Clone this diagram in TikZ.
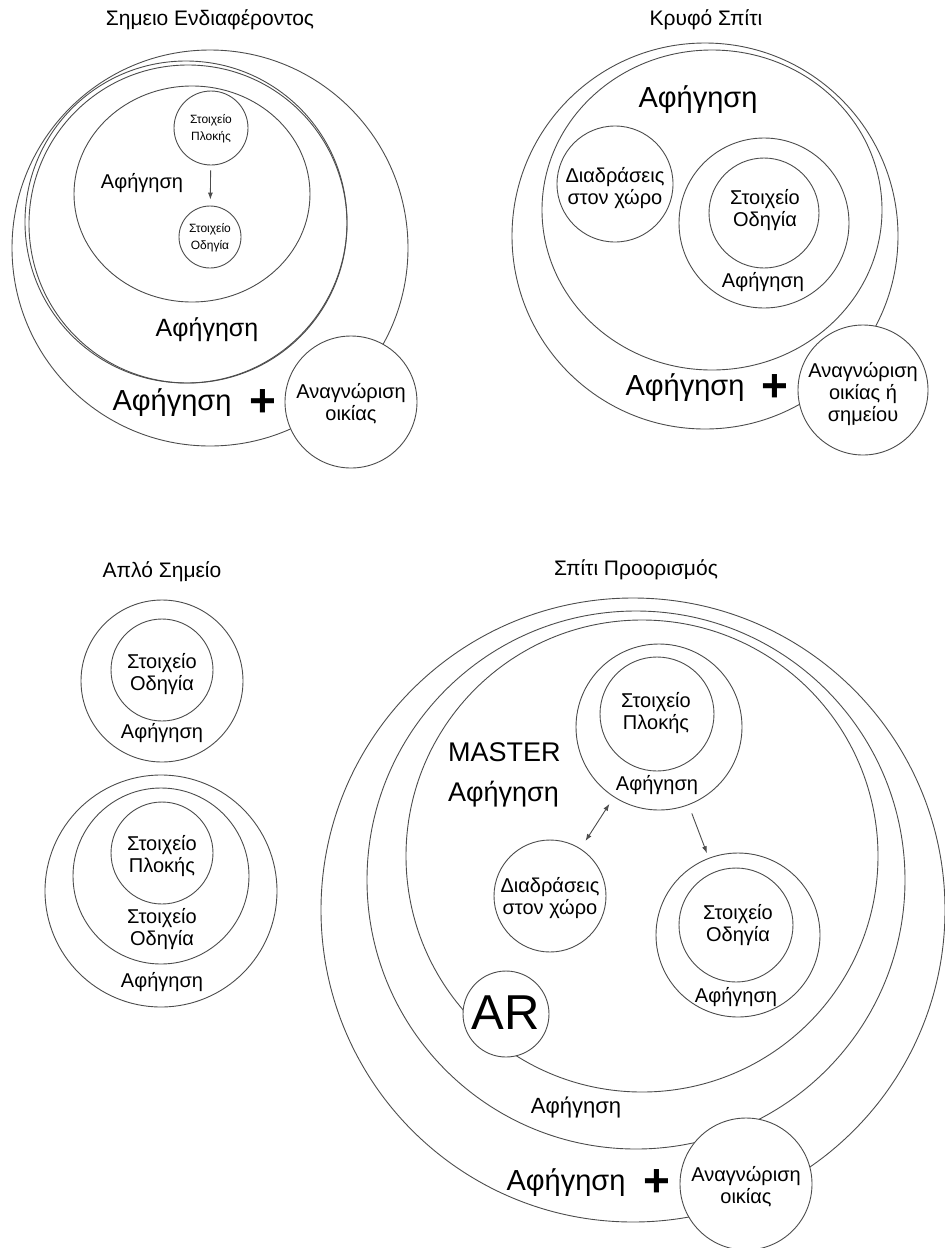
\documentclass[tikz,border=0pt]{standalone}
\usepackage{fontspec}
\setmainfont{Liberation Sans}
\usetikzlibrary{arrows.meta,positioning,shapes.geometric}
\definecolor{linegray}{gray}{0.3}

\begin{document}
\begin{tikzpicture}[x=1pt, y=-1pt,
    ring/.style={circle, draw=linegray, line width=0.9pt, inner sep=0pt},
    oval/.style={ellipse, draw=linegray, line width=0.9pt, inner sep=0pt},
    cover/.style={ring, fill=white},
    txt/.style={inner sep=0pt, align=center, font=\fontsize{20}{22}\selectfont},
    tiny/.style={txt, font=\fontsize{12}{17}\selectfont},
    mid/.style={txt, font=\fontsize{25}{30}\selectfont},
    big/.style={txt, font=\fontsize{29}{33}\selectfont},
    heading/.style={txt, font=\fontsize{21}{25}\selectfont},
    plus/.style={txt, font=\fontsize{46}{46}\bfseries\selectfont},
    arr/.style={-{Latex[length=7pt,width=5pt]}, draw=linegray, line width=0.9pt}]
    \useasboundingbox (0,0) rectangle (945,1248);

    % Σημείο Ενδιαφέροντος
    \node[heading] (poiTitle) at (210,20) {Σημειο Ενδιαφέροντος};
    \node[ring, minimum size=396pt] (poiOuter) at (210,248) {};
    \node[ring, minimum size=322pt] (poiMid) at (186,222) {};
    \node[ring, minimum size=318pt] (poiMidB) at (188,224) {};
    \node[oval, minimum width=236pt, minimum height=216pt] (poiInner) at (192,194) {};
    \node[ring, minimum size=74pt] (poiPlok) at (211,128) {};
    \node[tiny] (poiPlokTxt) at (211,129) {Στοιχείο\\Πλοκής};
    \node[ring, minimum size=62pt] (poiOdig) at (210,237) {};
    \node[tiny] (poiOdigTxt) at (210,238) {Στοιχείο\\Οδηγία};
    \draw[arr, shorten <=5pt, shorten >=6pt] (poiPlok) -- (poiOdig);
    \node[txt] (poiNarrA) at (142,183) {Αφήγηση};
    \node[mid] (poiNarrB) at (207,330) {Αφήγηση};
    \node[big] (poiNarrC) at (172,403) {Αφήγηση};
    \node[plus] (poiPlus) at (263,403) {+};
    \node[cover, minimum size=132pt] (poiRecog) at (351,402) {};
    \node[txt] (poiRecogTxt) at (351,404) {Αναγνώριση\\οικίας};

    % Κρυφό Σπίτι
    \node[heading] (hidTitle) at (706,20) {Κρυφό Σπίτι};
    \node[ring, minimum size=386pt] (hidOuter) at (705,236) {};
    \node[oval, minimum width=340pt, minimum height=320pt] (hidMid) at (712,210) {};
    \node[big] (hidNarrTop) at (698,100) {Αφήγηση};
    \node[ring, minimum size=116pt] (hidDiad) at (615,184) {};
    \node[txt] (hidDiadTxt) at (615,188) {Διαδράσεις\\στον χώρο};
    \node[ring, minimum size=170pt] (hidOdigRing) at (764,223) {};
    \node[ring, minimum size=110pt] (hidOdig) at (764,213) {};
    \node[txt] (hidOdigTxt) at (765,210) {Στοιχείο\\Οδηγία};
    \node[txt] (hidNarrIn) at (763,282) {Αφήγηση};
    \node[big] (hidNarrOut) at (685,388) {Αφήγηση};
    \node[plus] (hidPlus) at (775,388) {+};
    \node[cover, minimum size=130pt] (hidRecog) at (863,390) {};
    \node[txt] (hidRecogTxt) at (863,394) {Αναγνώριση\\οικίας ή\\σημείου};

    % Απλό Σημείο
    \node[heading] (simTitle) at (162,572) {Απλό Σημείο};
    \node[ring, minimum size=162pt] (simOuterA) at (162,681) {};
    \node[ring, minimum size=102pt] (simOdig) at (162,670) {};
    \node[txt] (simOdigTxt) at (162,674) {Στοιχείο\\Οδηγία};
    \node[txt] (simNarrA) at (162,733) {Αφήγηση};
    \node[ring, minimum size=232pt] (simOuterB) at (161,891) {};
    \node[ring, minimum size=176pt] (simMidB) at (161,876) {};
    \node[ring, minimum size=102pt] (simPlok) at (162,853) {};
    \node[txt] (simPlokTxt) at (162,856) {Στοιχείο\\Πλοκής};
    \node[txt] (simOdigB) at (162,929) {Στοιχείο\\Οδηγία};
    \node[txt] (simNarrB) at (162,982) {Αφήγηση};

    % Σπίτι Προορισμός
    \node[heading] (dstTitle) at (636,570) {Σπίτι Προορισμός};
    \node[ring, minimum size=624pt] (dstOuter) at (633,910) {};
    \node[ring, minimum size=538pt] (dstMid) at (636,880) {};
    \node[ring, minimum size=472pt] (dstInner) at (642,856) {};
    \node[txt, anchor=west, align=left, font=\fontsize{27}{40}\selectfont] (dstMaster) at (448,775) {MASTER\\Αφήγηση};
    \node[ring, minimum size=166pt] (dstPlokRing) at (659,727) {};
    \node[ring, minimum size=114pt] (dstPlok) at (657,714) {};
    \node[txt] (dstPlokTxt) at (656,713) {Στοιχείο\\Πλοκής};
    \node[txt] (dstPlokNarr) at (657,785) {Αφήγηση};
    \node[ring, minimum size=112pt] (dstDiad) at (550,896) {};
    \node[txt] (dstDiadTxt) at (550,898) {Διαδράσεις\\στον χώρο};
    \node[ring, minimum size=164pt] (dstOdigRing) at (738,935) {};
    \node[ring, minimum size=114pt] (dstOdig) at (736,925) {};
    \node[txt] (dstOdigTxt) at (738,925) {Στοιχείο\\Οδηγία};
    \node[txt] (dstOdigNarr) at (736,997) {Αφήγηση};
    \draw[arr, {Latex[length=7pt,width=5pt]}-{Latex[length=7pt,width=5pt]}, shorten <=9pt, shorten >=8pt] (dstDiad) -- (dstPlokRing);
    \draw[arr, shorten <=9pt, shorten >=5pt] (dstPlokRing) -- (dstOdigRing);
    \node[cover, minimum size=86pt] (dstAR) at (506,1014) {};
    \node[txt, font=\fontsize{49}{49}\selectfont] (dstARTxt) at (506,1013) {AR};
    \node[txt, font=\fontsize{22}{26}\selectfont] (dstNarrMid) at (576,1107) {Αφήγηση};
    \node[big] (dstNarrOut) at (566,1183) {Αφήγηση};
    \node[plus] (dstPlus) at (657,1183) {+};
    \node[cover, minimum size=132pt] (dstRecog) at (746,1184) {};
    \node[txt] (dstRecogTxt) at (746,1187) {Αναγνώριση\\οικίας};
\end{tikzpicture}
\end{document}
